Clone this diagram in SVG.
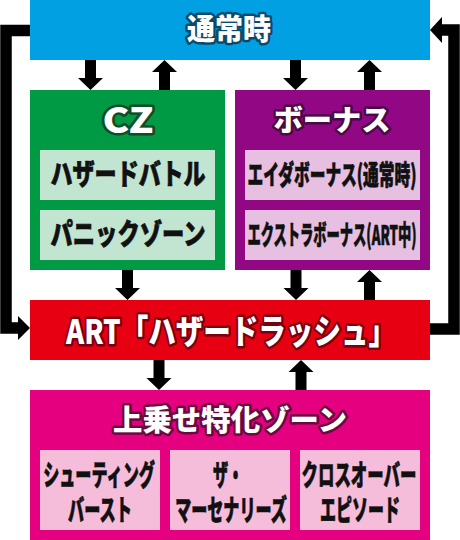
<svg xmlns="http://www.w3.org/2000/svg" xmlns:xlink="http://www.w3.org/1999/xlink" width="460" height="540" viewBox="0 0 460 540">
<style>
.t{font-family:"Noto Sans CJK JP","Noto Sans",sans-serif;font-weight:900;fill:#fff;stroke-width:5;paint-order:stroke;stroke-linejoin:round;text-anchor:middle}
.s{font-family:"Noto Sans CJK JP","Noto Sans",sans-serif;font-weight:900;fill:#111;stroke:#111;stroke-width:0.7;stroke-linejoin:round;text-anchor:middle}
.ln{fill:none;stroke:#000;stroke-width:11.5;stroke-linejoin:miter}
</style>
<defs>
<path id="dn" d="M-5.5,0 H5.5 V18 H12.5 L0,30 L-12.5,18 H-5.5 Z" fill="#000"/>
<path id="up" d="M-5.5,30 H5.5 V12 H12.5 L0,0 L-12.5,12 H-5.5 Z" fill="#000"/>
</defs>
<rect width="460" height="540" fill="#fff"/>
<g id="normal">
<rect x="30" y="0" width="400" height="60" fill="#00a0e3"/>
<text class="t" x="229" y="40" font-size="29" stroke="#0b4a6a" textLength="84" lengthAdjust="spacingAndGlyphs">通常時</text>
</g>
<g id="cz">
<rect x="30" y="90" width="195" height="180" fill="#009a44"/>
<text class="t" x="128" y="133" font-size="35" stroke="#0e4d26" textLength="51" lengthAdjust="spacingAndGlyphs">CZ</text>
<rect x="40" y="150" width="175" height="50" fill="#c1e5d1"/>
<text class="s" transform="translate(128,185) scale(0.76,1)" font-size="29" textLength="204" lengthAdjust="spacingAndGlyphs">ハザードバトル</text>
<rect x="40" y="210" width="175" height="50" fill="#c1e5d1"/>
<text class="s" transform="translate(128,245) scale(0.76,1)" font-size="29" textLength="204" lengthAdjust="spacingAndGlyphs">パニックゾーン</text>
</g>
<g id="bonus">
<rect x="235" y="90" width="195" height="180" fill="#920783"/>
<text class="t" x="332" y="131" font-size="29" stroke="#4a0a44" textLength="117" lengthAdjust="spacingAndGlyphs">ボーナス</text>
<rect x="245" y="150" width="175" height="50" fill="#e6bfe1"/>
<text class="s" transform="translate(332,185) scale(0.585,1)" font-size="27" textLength="289" lengthAdjust="spacingAndGlyphs">エイダボーナス(通常時)</text>
<rect x="245" y="210" width="175" height="50" fill="#e6bfe1"/>
<text class="s" transform="translate(332,245) scale(0.5,1)" font-size="27" textLength="338" lengthAdjust="spacingAndGlyphs">エクストラボーナス(ART中)</text>
</g>
<g id="art">
<rect x="30" y="300" width="400" height="60" fill="#e60012"/>
<text class="t" x="231" y="344" font-size="34" stroke="#7a0010" textLength="330" lengthAdjust="spacingAndGlyphs">ART「ハザードラッシュ」</text>
</g>
<g id="zone">
<rect x="30" y="390" width="400" height="150" fill="#e4007f"/>
<text class="t" x="230" y="431" font-size="29" stroke="#6b0a3e" textLength="234" lengthAdjust="spacingAndGlyphs">上乗せ特化ゾーン</text>
<rect x="40" y="450" width="120" height="80" fill="#f6bddb"/>
<text class="s" transform="translate(99,486) scale(0.57,1)" font-size="29" textLength="196" lengthAdjust="spacingAndGlyphs">シューティング</text>
<text class="s" transform="translate(100,521) scale(0.57,1)" font-size="29" textLength="112" lengthAdjust="spacingAndGlyphs">バースト</text>
<rect x="170" y="450" width="120" height="80" fill="#f6bddb"/>
<text class="s" transform="translate(228,486) scale(0.57,1)" font-size="29" textLength="53" lengthAdjust="spacingAndGlyphs">ザ・</text>
<text class="s" transform="translate(231,521) scale(0.57,1)" font-size="29" textLength="196" lengthAdjust="spacingAndGlyphs">マーセナリーズ</text>
<rect x="300" y="450" width="120" height="80" fill="#f6bddb"/>
<text class="s" transform="translate(359,486) scale(0.587,1)" font-size="29" textLength="196" lengthAdjust="spacingAndGlyphs">クロスオーバー</text>
<text class="s" transform="translate(360,521) scale(0.57,1)" font-size="29" textLength="140" lengthAdjust="spacingAndGlyphs">エピソード</text>
</g>
<g id="connectors">
<use xlink:href="#dn" x="90.5" y="60"/>
<use xlink:href="#up" x="164.5" y="60"/>
<use xlink:href="#dn" x="295.5" y="60"/>
<use xlink:href="#up" x="369.5" y="60"/>
<use xlink:href="#dn" x="127.5" y="270"/>
<use xlink:href="#dn" x="296" y="270"/>
<use xlink:href="#up" x="369.5" y="270"/>
<use xlink:href="#dn" x="159" y="360"/>
<use xlink:href="#up" x="301" y="360"/>
<polyline class="ln" points="30,30.5 6,30.5 6,328 19,328"/>
<polygon points="18,316 30,328 18,340" fill="#000"/>
<polyline class="ln" points="430,329 454,329 454,30 441,30"/>
<polygon points="442,17 430,30 442,43" fill="#000"/>
</g>
</svg>
